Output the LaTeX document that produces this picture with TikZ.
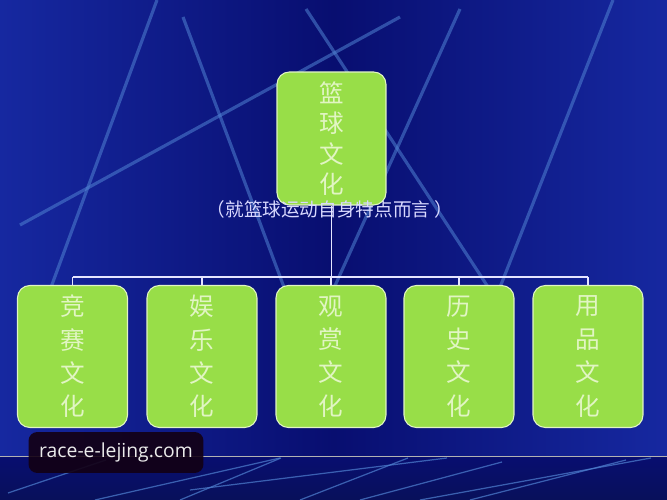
\documentclass[tikz,border=0pt]{standalone}
\usepackage{fontspec}
\newfontfamily\cjk{Noto Sans CJK SC}
\newfontfamily\wmfont{Open Sans}
\definecolor{bgdark}{RGB}{8,14,112}
\definecolor{bglight}{RGB}{22,40,160}
\definecolor{bandblue}{RGB}{8,16,90}
\definecolor{streak}{RGB}{80,130,210}
\definecolor{boxgreen}{RGB}{152,222,72}
\definecolor{boxtext}{RGB}{225,245,195}
\tikzset{
  culturebox/.style={draw=boxtext,line width=0.6pt,fill=boxgreen,
    rounded corners=7pt,inner sep=0pt,align=center,text=boxtext,font=\cjk},
  link/.style={draw=white!90!blue,line width=0.9pt},
  streakline/.style={draw=streak,line width=1.8pt,opacity=0.55},
  thinstreak/.style={draw=streak,line width=0.7pt,opacity=0.7}
}
\begin{document}
\begin{tikzpicture}[x=0.02cm,y=-0.02cm]
    \useasboundingbox (0,0) rectangle (667,500);
    \shade[left color=bglight,right color=bglight,middle color=bgdark]
      (0,0) rectangle (667,457);
    \shade[top color=bgdark,bottom color=bandblue] (0,457) rectangle (667,500);
    \foreach \a/\b/\c/\d in {
      20/225/400/17, 157/0/50/290, 183/17/300/330,
      306/9/490/290, 460/9/315/330, 613/0/495/300
    }
    \draw[streakline] (\a,\b) -- (\c,\d);
    \foreach \a/\b/\c/\d in {
      8/493/106/460, 95/500/280/458, 180/500/281/458,
      190/490/447/458, 300/500/408/458, 360/500/502/462,
      420/500/651/458, 470/500/626/460
    }
    \draw[thinstreak] (\a,\b) -- (\c,\d);
    \draw[gray!60!white,line width=0.8pt] (0,456.5) -- (667,456.5);
    \node[culturebox,minimum width=2.18cm,minimum height=2.66cm,
      font=\cjk\fontsize{14}{17.2}\selectfont] (basket) at (331.5,138.5)
      {篮\\球\\文\\化};
    \foreach \x/\t [count=\i] in {
      72.5/竞\\赛\\文\\化, 202/娱\\乐\\文\\化, 331/观\\赏\\文\\化,
      459/历\\史\\文\\化, 588/用\\品\\文\\化
    }
    \node[culturebox,minimum width=2.2cm,minimum height=2.84cm,
      font=\cjk\fontsize{14}{19}\selectfont] (c\i) at (\x,356.5) {\t};
    \node[text=white!85!blue,font=\cjk\fontsize{10.6}{12}\selectfont]
      (remark) at (330,209) {（就篮球运动自身特点而言 ）};
    \coordinate (bus) at (331.5,277);
    \draw[link] (basket.south) -- (bus);
    \draw[link] (c1.north |- bus) -- (c5.north |- bus);
    \foreach \i in {1,...,5}
      \draw[link] (c\i.north) -- (c\i.north |- bus);
    \node[fill=black!85!violet,fill opacity=0.9,text opacity=1,
      rounded corners=5pt,minimum width=3.5cm,minimum height=0.82cm,
      text=white!92!black,font=\wmfont\fontsize{11}{13}\selectfont]
      (mark) at (116,452.5) {race-e-lejing.com};
  \end{tikzpicture}
\end{document}
